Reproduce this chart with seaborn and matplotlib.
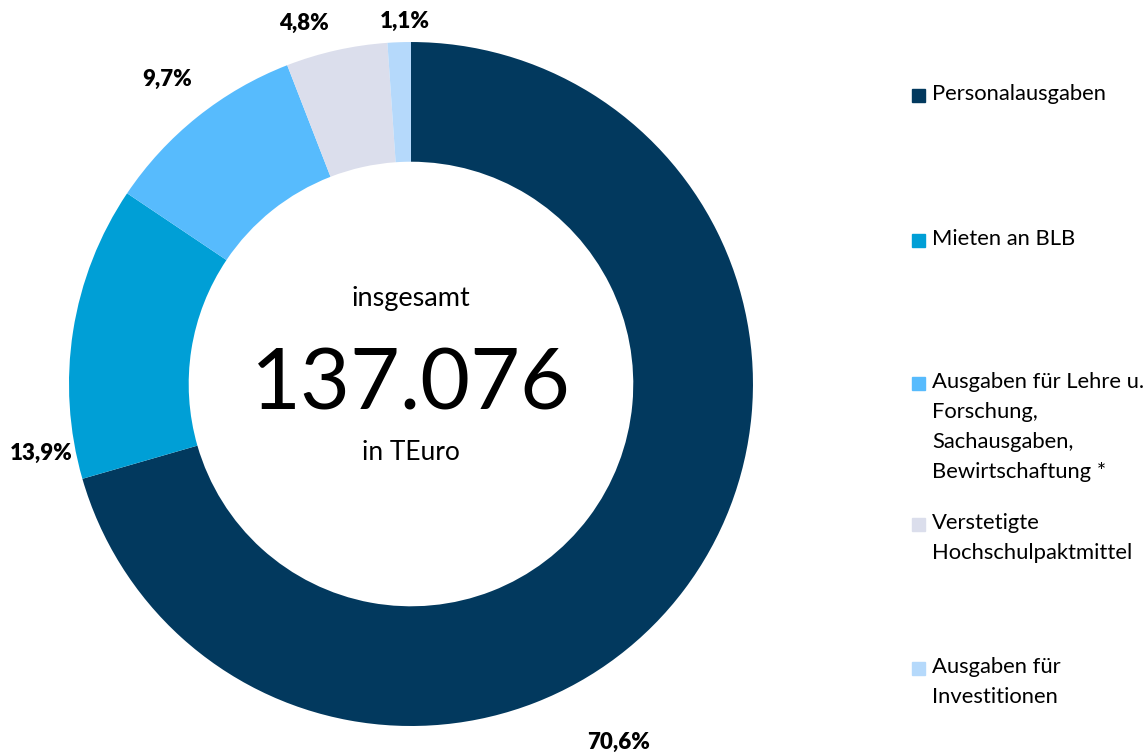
import matplotlib.pyplot as plt
import seaborn as sns
import numpy as np
from matplotlib.patches import Rectangle

sns.set_theme(style="white")
plt.rcParams['font.family'] = ['Lato', 'DejaVu Sans']

categories = ['Personalausgaben', 'Mieten an BLB',
              'Ausgaben für Lehre u.\nForschung,\nSachausgaben,\nBewirtschaftung *',
              'Verstetigte\nHochschulpaktmittel', 'Ausgaben für\nInvestitionen']
shares = [70.6, 13.9, 9.7, 4.8, 1.1]
pct_labels = ['70,6%', '13,9%', '9,7%', '4,8%', '1,1%']
colors = ['#02395E', '#009FD6', '#57BBFD', '#DBDEEC', '#B5D9FB']
total_text = '137.076'

fig = plt.figure(figsize=(11.48, 7.54), dpi=100)
ax = fig.add_axes([0.0601, 0.0371, 0.5958, 0.9072])

wedges, _ = ax.pie(shares, colors=colors, startangle=90, counterclock=False,
                   radius=1.0, wedgeprops=dict(width=0.35, linewidth=0))
ax.set_xlim(-1, 1)
ax.set_ylim(-1, 1)
ax.set_aspect('equal')
ax.axis('off')

# label positions: angle offset (deg, relative to wedge middle) and radius
label_adjust = [(-23, 1.21), (19.5, 1.10), (0, 1.14), (4, 1.10), (-1, 1.06)]
for w, lab, (off, r) in zip(wedges, pct_labels, label_adjust):
    ang = np.deg2rad((w.theta1 + w.theta2) / 2 + off)
    ax.text(r * np.cos(ang), r * np.sin(ang), lab, ha='center', va='center',
            fontsize=16, fontweight='heavy', color='black')

ax.text(0, 0.25, 'insgesamt', ha='center', va='center', fontsize=19.5, color='black')
ax.text(0, -0.005, total_text, ha='center', va='center', fontsize=62, color='black')
ax.text(0, -0.2, 'in TEuro', ha='center', va='center', fontsize=19, color='black')

# legend drawn by hand so the square sits at the first text line
legend_y = [95, 240, 383, 524, 668]
for cat, col, y in zip(categories, colors, legend_y):
    fy = 1 - y / 754
    fig.patches.append(Rectangle((912 / 1148, fy - 7 / 754), 13 / 1148, 13 / 754,
                                 transform=fig.transFigure, color=col))
    fig.text(932 / 1148, fy + 11 / 754, cat, ha='left', va='top', fontsize=15.8,
             color='black', linespacing=1.62)

fig.savefig('out.png', dpi=100)
